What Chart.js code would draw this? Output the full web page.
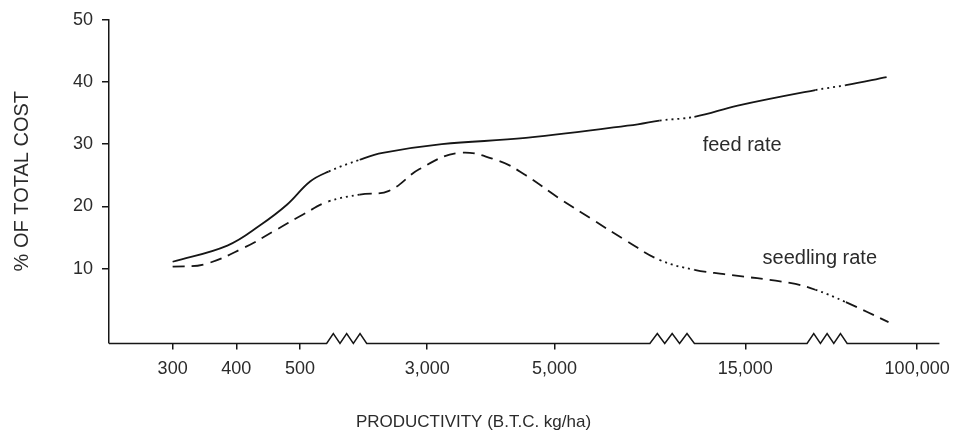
<!DOCTYPE html>
<html>
<head>
<meta charset="utf-8">
<script src="https://cdn.jsdelivr.net/npm/chart.js@4.4.1/dist/chart.umd.min.js"></script>
<style>
  html, body { margin: 0; padding: 0; background: #fff; }
  #wrap { width: 959px; height: 444px; }
</style>
</head>
<body>
<div id="wrap"><canvas id="costChart"></canvas></div>
<script>
// x is a compressed, broken axis: one unit is roughly one tick gap
const tickPos = [0, 1, 2, 4, 6, 9, 11.7];
const tickLabels = ['300', '400', '500', '3,000', '5,000', '15,000', '100,000'];
const yTicks = [10, 20, 30, 40, 50];

// zigzags on the x axis, and the stretches of the curves drawn dotted over them
const axisBreaks = [[2.42, 3.05], [7.5, 8.2], [9.97, 10.6]];
const curveBreaks = [[2.45, 2.94], [7.65, 8.2], [10.1, 10.58]];

const feedX = [0, 0.86, 1.38, 1.8, 2.16, 2.45, 2.94, 3.3, 4.23, 5.55, 7.31, 7.65, 8.2, 8.88, 10.1, 10.58, 11.22];
const feedY = [11.1, 13.7, 17.0, 20.3, 24.0, 25.6, 27.5, 28.6, 30.0, 31.0, 33.2, 33.8, 34.4, 36.2, 38.7, 39.5, 40.8];

const seedX = [0, 0.5, 1.11, 1.64, 2.05, 2.45, 2.94, 3.4, 3.88, 4.5, 5.13, 5.55, 6.06, 6.58, 7.11, 7.65, 8.2, 8.67, 9.7, 10.1, 10.58, 11.25];
const seedY = [10.3, 10.7, 13.3, 16.3, 18.7, 20.8, 21.9, 22.5, 26.0, 28.6, 27.3, 25.0, 21.4, 18.0, 14.6, 11.4, 9.8, 9.1, 7.7, 6.6, 4.6, 1.4];

const labelText = ['feed rate', 'seedling rate'];
const labelX = [8.95, 10.17];
const labelY = [29.8, 11.6];

const ink = '#161616';
const textInk = '#2b2b2b';
const family = '"Liberation Sans", Arial, Helvetica, sans-serif';
Chart.defaults.font.family = family;

function toPoints(xs, ys) {
    return xs.map((x, i) => ({ x: x, y: ys[i] }));
}

function inBreak(ctx) {
    const a = ctx.p0.parsed.x, b = ctx.p1.parsed.x;
    return curveBreaks.some(r => a >= r[0] - 0.001 && b <= r[1] + 0.001);
}

// x axis line with the zigzag breaks, plus the curve labels
const brokenAxis = {
    id: 'brokenAxis',
    afterDatasetsDraw(chart) {
        const { ctx, chartArea, scales } = chart;
        const x = scales.x, y = scales.y;
        const y0 = Math.round(chartArea.bottom) + 0.5;

        ctx.save();
        ctx.strokeStyle = ink;
        ctx.lineWidth = 1.5;
        ctx.beginPath();
        ctx.moveTo(chartArea.left, y0);
        axisBreaks.forEach(([a, b]) => {
            const pa = x.getPixelForValue(a), pb = x.getPixelForValue(b);
            const step = (pb - pa) / 6;
            ctx.lineTo(pa, y0);
            for (let i = 1; i <= 6; i++) {
                ctx.lineTo(pa + step * i, i % 2 ? y0 - 10 : y0);
            }
        });
        ctx.lineTo(chartArea.right, y0);
        ctx.stroke();

        ctx.fillStyle = textInk;
        ctx.font = '20px ' + family;
        ctx.textAlign = 'center';
        ctx.textBaseline = 'middle';
        labelText.forEach((t, i) => {
            ctx.fillText(t, x.getPixelForValue(labelX[i]), y.getPixelForValue(labelY[i]));
        });
        ctx.restore();
    }
};

new Chart(document.getElementById('costChart'), {
    type: 'line',
    data: {
        datasets: [
            {
                label: 'feed rate',
                data: toPoints(feedX, feedY),
                borderColor: ink,
                borderWidth: 1.8,
                pointRadius: 0,
                fill: false,
                tension: 0.4,
                segment: { borderDash: ctx => inBreak(ctx) ? [2, 4] : [] }
            },
            {
                label: 'seedling rate',
                data: toPoints(seedX, seedY),
                borderColor: ink,
                borderWidth: 1.8,
                pointRadius: 0,
                fill: false,
                tension: 0.4,
                segment: { borderDash: ctx => inBreak(ctx) ? [2, 4] : [12, 7] }
            }
        ]
    },
    options: {
        responsive: true,
        maintainAspectRatio: false,
        animation: false,
        layout: { padding: { top: 16, right: 12, left: 0, bottom: 0 } },
        plugins: {
            legend: { display: false },
            tooltip: { enabled: false },
            title: {
                display: true,
                position: 'bottom',
                text: 'PRODUCTIVITY (B.T.C. kg/ha)',
                color: textInk,
                font: { size: 17, weight: 'normal' },
                padding: { top: 0, bottom: 11 }
            }
        },
        scales: {
            x: {
                type: 'linear',
                min: -1,
                max: 12.05,
                afterBuildTicks: s => { s.ticks = tickPos.map(v => ({ value: v })); },
                afterFit: s => { s.height = 70; },
                grid: { drawOnChartArea: false, tickLength: 7, color: ink, lineWidth: 1.5 },
                border: { display: false },
                ticks: {
                    color: textInk,
                    font: { size: 18 },
                    padding: 9,
                    maxRotation: 0,
                    autoSkip: false,
                    callback: (v, i) => tickLabels[i]
                }
            },
            y: {
                min: -1.9,
                max: 50,
                afterBuildTicks: s => { s.ticks = yTicks.map(v => ({ value: v })); },
                afterFit: s => { s.width = 109; },
                grid: { drawOnChartArea: false, tickLength: 7, color: ink, lineWidth: 1.5 },
                border: { display: true, color: ink, width: 1.5 },
                ticks: { color: textInk, font: { size: 18 }, padding: 9 },
                title: {
                    display: true,
                    text: '% OF TOTAL COST',
                    color: textInk,
                    font: { size: 20 },
                    padding: { top: 10, bottom: 0 }
                }
            }
        }
    },
    plugins: [brokenAxis]
});
</script>
</body>
</html>
